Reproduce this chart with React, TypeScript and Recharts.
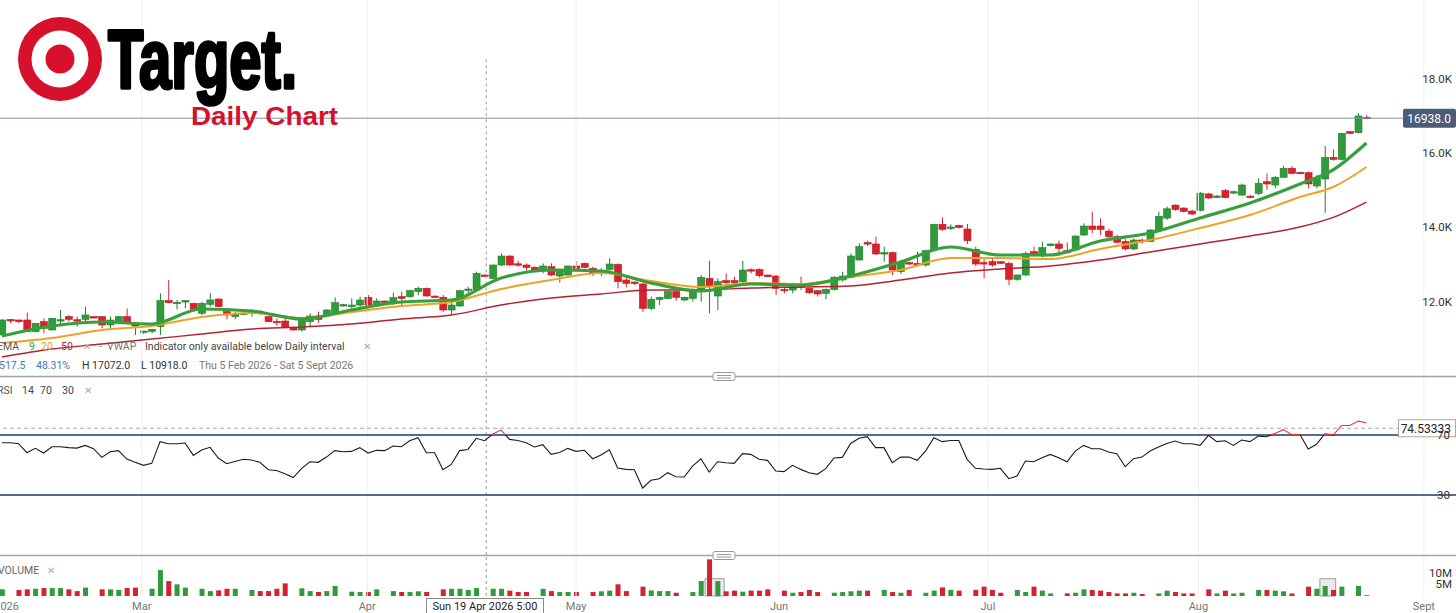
import React from 'react';
import {
  ComposedChart,
  Bar,
  Line,
  XAxis,
  YAxis,
  ReferenceLine,
  ReferenceArea,
  Cell,
} from 'recharts';

const W = 1456;
const X_MIN = -0.24;
const X_MAX = 174.76;
const PRICE_MIN = 10000;
const PRICE_MAX = 20120;
const RSI_MIN = -10;
const RSI_MAX = 108.7;
const VOL_MAX = 16.7;

const GREEN = '#2f9b3b';
const GREEN_EDGE = '#237a2c';
const RED = '#d9222d';
const FONT = 'Roboto, "Noto Sans", sans-serif';

// open, high, low, close
const candles: [number, number, number, number][] = [
  [11104, 11530, 11080, 11507], [11520, 11530, 11417, 11490], [11507, 11520, 11417, 11462], [11507, 11705, 11180, 11193],
  [11193, 11420, 11180, 11417], [11462, 11552, 11148, 11283], [11238, 11560, 11230, 11552], [11500, 11777, 11373, 11515],
  [11597, 11642, 11462, 11525], [11515, 11597, 11328, 11500], [11525, 11866, 11462, 11642], [11597, 11610, 11570, 11570],
  [11597, 11610, 11283, 11373], [11373, 11597, 11283, 11507], [11462, 11610, 11450, 11597], [11597, 11821, 11400, 11417],
  [11399, 11410, 11103, 11346], [11184, 11211, 11130, 11211], [11202, 11270, 11150, 11256], [11328, 12225, 11103, 12028],
  [12028, 12584, 11956, 11974], [11956, 12046, 11794, 11983], [12010, 12035, 11821, 12028], [11956, 11975, 11780, 11794],
  [11686, 12000, 11640, 11956], [11929, 12225, 11866, 12046], [12072, 12090, 11850, 11866], [11732, 11777, 11525, 11642],
  [11597, 11732, 11525, 11660], [11680, 11720, 11640, 11690], [11720, 11794, 11597, 11735], [11730, 11780, 11650, 11715],
  [11597, 11620, 11450, 11462], [11470, 11552, 11346, 11455], [11480, 11552, 11282, 11309], [11309, 11320, 11220, 11238],
  [11238, 11597, 11200, 11552], [11462, 11686, 11309, 11615], [11615, 11731, 11435, 11525], [11615, 11800, 11600, 11776],
  [11668, 12117, 11641, 11973], [11893, 11940, 11870, 11920], [11866, 12090, 11776, 11910], [11910, 12135, 11866, 12045],
  [12117, 12180, 11866, 11910], [11884, 12090, 11866, 12018], [12018, 12030, 11980, 11992], [11955, 12242, 11910, 12108],
  [12135, 12270, 11866, 12090], [12135, 12320, 12110, 12296], [12270, 12404, 12180, 12360], [12360, 12380, 12140, 12153],
  [12150, 12170, 12120, 12130], [12117, 12180, 11731, 11776], [11776, 12045, 11668, 11910], [11884, 12320, 11866, 12296],
  [12320, 12404, 12225, 12340], [12314, 12808, 12296, 12763], [12718, 12740, 12680, 12691], [12628, 13000, 12610, 12987],
  [12987, 13301, 12960, 13229], [13229, 13250, 12970, 12987], [13020, 13100, 12942, 13000], [12987, 13032, 12835, 12924],
  [12924, 12950, 12820, 12835], [12835, 13032, 12763, 12960], [12942, 13032, 12691, 12718], [12691, 12850, 12512, 12835],
  [12718, 12980, 12700, 12960], [12960, 13100, 12870, 12897], [13032, 13050, 12900, 12924], [12897, 12942, 12691, 12763],
  [12790, 12897, 12691, 12830], [12870, 13167, 12835, 13014], [13005, 13032, 12359, 12538], [12583, 12655, 12386, 12494],
  [12530, 12540, 12450, 12512], [12476, 12512, 11731, 11821], [11821, 12135, 11776, 12063], [12063, 12135, 11910, 12117],
  [12090, 12280, 12075, 12269], [12269, 12290, 12027, 12117], [12045, 12135, 12018, 12117], [12090, 12359, 12000, 12332],
  [12332, 12718, 12000, 12655], [12628, 13100, 11686, 12404], [12153, 12628, 11776, 12539], [12566, 12763, 12476, 12512],
  [12566, 12673, 12476, 12512], [12539, 13100, 12512, 12853], [12860, 12897, 12763, 12830], [12870, 12897, 12655, 12700],
  [12718, 12730, 12660, 12673], [12691, 12718, 12180, 12359], [12330, 12404, 12225, 12305], [12314, 12512, 12225, 12476],
  [12449, 12673, 12314, 12386], [12359, 12380, 12198, 12242], [12296, 12310, 12135, 12207], [12225, 12350, 12063, 12332],
  [12330, 12680, 12300, 12660], [12584, 12808, 12539, 12691], [12656, 13301, 12628, 13230], [13122, 13571, 13104, 13481],
  [13588, 13642, 13499, 13553], [13553, 13750, 13257, 13284], [13300, 13481, 13077, 13320], [13320, 13346, 12718, 12853],
  [12808, 13122, 12745, 13050], [13050, 13080, 12990, 13040], [13032, 13346, 12942, 12987], [12987, 13391, 12942, 13373],
  [13391, 14100, 13380, 14082], [14082, 14270, 13911, 13947], [13990, 14082, 13929, 14010], [14055, 14070, 13974, 14000],
  [13956, 14091, 13553, 13642], [13409, 13481, 12960, 13014], [13050, 13140, 12629, 13032], [13077, 13167, 12942, 12987],
  [13077, 13090, 13020, 13032], [13032, 13077, 12449, 12602], [12602, 12730, 12566, 12718], [12718, 13346, 12691, 13301],
  [13346, 13481, 13212, 13257], [13230, 13616, 13194, 13454], [13508, 13570, 13490, 13553], [13553, 13642, 13301, 13436],
  [13373, 13589, 13301, 13328], [13391, 13785, 13370, 13768], [13795, 14109, 13768, 14037], [14037, 14423, 13840, 13947],
  [14037, 14243, 13795, 13947], [13900, 13960, 13700, 13750], [13750, 13800, 13560, 13600], [13620, 13680, 13380, 13420],
  [13420, 13700, 13380, 13660], [13660, 13700, 13560, 13620], [13620, 13950, 13600, 13930], [13930, 14420, 13900, 14300],
  [14250, 14560, 14200, 14500], [14600, 14620, 14450, 14480], [14520, 14540, 14400, 14430], [14440, 14470, 14330, 14360],
  [14460, 14950, 14430, 14920], [14900, 14930, 14770, 14790], [14820, 14870, 14790, 14845], [14990, 15030, 14780, 14800],
  [14930, 14990, 14900, 14960], [14870, 15180, 14850, 15140], [14840, 14880, 14790, 14818], [14916, 15320, 14870, 15185],
  [15230, 15454, 15006, 15168], [15140, 15380, 15051, 15347], [15347, 15660, 15330, 15589], [15589, 15652, 15437, 15454],
  [15481, 15500, 15440, 15454], [15473, 15500, 15051, 15168], [15114, 15410, 15051, 15320], [15302, 16190, 14396, 15885],
  [15885, 16100, 15795, 15831], [15831, 16540, 15800, 16531], [16576, 16590, 16520, 16531], [16549, 17072, 16530, 16998],
  [16961, 17030, 16925, 16938],
];

const rsi14 = [
  64.9, 64.9, 64.2, 58.2, 61.1, 58.0, 62.2, 62.2, 61.6, 61.3,
  63.1, 60.9, 55.1, 58.9, 59.6, 54.0, 51.8, 49.8, 51.1, 65.6,
  64.2, 64.2, 64.7, 56.4, 60.0, 61.8, 54.7, 50.9, 52.4, 53.8,
  53.3, 51.8, 46.9, 46.4, 44.2, 41.6, 47.6, 52.2, 51.8, 55.3,
  59.6, 58.9, 59.1, 61.6, 58.0, 59.8, 59.6, 62.7, 62.2, 66.2,
  68.2, 58.2, 58.2, 46.9, 50.4, 59.6, 60.4, 67.8, 66.2, 70.7,
  73.3, 67.1, 66.4, 64.9, 62.0, 63.6, 57.1, 58.4, 61.1, 59.1,
  59.8, 54.2, 56.7, 60.2, 48.0, 47.1, 46.9, 34.7, 39.8, 40.9,
  44.9, 42.2, 42.0, 49.3, 54.2, 45.3, 52.2, 51.5, 51.1, 57.6,
  57.1, 53.8, 53.1, 46.0, 45.6, 49.8, 47.1, 44.9, 43.8, 47.6,
  54.7, 55.1, 64.4, 67.8, 68.9, 61.6, 61.6, 51.6, 55.3, 55.3,
  53.1, 59.3, 68.2, 65.6, 66.4, 66.4, 53.8, 47.8, 47.3, 47.1,
  47.8, 40.9, 42.7, 52.7, 52.2, 54.9, 57.1, 54.9, 52.2, 59.3,
  63.1, 60.9, 60.9, 58.7, 57.6, 48.9, 54.2, 55.3, 59.3, 62.0,
  64.4, 66.0, 64.2, 64.2, 63.1, 69.8, 65.6, 66.2, 63.1, 66.7,
  65.6, 69.3, 68.9, 71.1, 73.6, 70.4, 70.4, 60.7, 63.8, 70.9,
  70.0, 76.4, 76.4, 79.3, 78.2,
];

// millions
const volumeM = [
  2.85, 0, 2.6, 2.85, 3.1, 3.4, 3.4, 3.4, 2.85, 2.1,
  3.6, 0, 2.85, 2.85, 2.6, 3.4, 3.6, 0, 3.1, 11.1,
  6.4, 5.0, 3.6, 0, 3.1, 2.1, 2.4, 3.1, 3.1, 0,
  2.6, 2.1, 2.1, 3.1, 5.4, 0, 3.3, 2.1, 1.7, 2.1,
  4.3, 0, 1.85, 1.7, 1.7, 2.85, 0, 2.1, 1.7, 1.7,
  2.0, 1.7, 0, 2.85, 3.1, 3.1, 2.6, 3.4, 0, 3.1,
  3.1, 2.3, 1.7, 1.7, 0, 3.1, 2.1, 1.7, 1.7, 1.7,
  0, 1.7, 2.0, 2.3, 5.0, 2.1, 0, 4.0, 2.4, 2.1,
  2.1, 1.4, 0, 1.7, 6.4, 15.7, 6.4, 2.0, 2.3, 1.85,
  2.3, 2.3, 2.85, 0, 2.3, 1.4, 1.7, 2.6, 1.7, 0,
  1.4, 1.7, 2.0, 2.3, 2.3, 0, 2.6, 1.7, 1.4, 2.6,
  0, 1.4, 2.3, 3.7, 2.6, 2.3, 0, 2.6, 4.0, 2.6,
  1.4, 0, 2.6, 1.7, 4.0, 2.3, 1.1, 0, 1.1, 1.4,
  2.85, 2.6, 2.3, 1.7, 1.1, 1.1, 1.4, 0.85, 0, 1.1,
  2.3, 1.7, 1.1, 1.1, 0, 2.85, 1.1, 2.3, 1.1, 1.4,
  0, 2.6, 2.6, 2.3, 2.0, 1.1, 0, 4.0, 3.1, 4.3,
  2.6, 4.0, 0, 4.3, 0.3,
];

// moving averages at these candle positions
const emaAt = [0, 6, 12, 18, 24, 30, 36, 42, 48, 54, 60, 66, 72, 78, 84, 90, 96, 102, 108, 114, 120, 126, 132, 138, 144, 150, 156, 160, 164];
const ema9 = [11077, 11346, 11453, 11400, 11803, 11749, 11534, 11776, 11992, 12045, 12638, 12853, 12826, 12503, 12288, 12476, 12449, 12690, 13068, 13472, 13257, 13257, 13633, 13849, 14253, 14656, 15168, 15550, 16271];
const ema20 = [10888, 11023, 11238, 11346, 11588, 11696, 11561, 11723, 11884, 11992, 12342, 12584, 12772, 12557, 12395, 12503, 12476, 12665, 12853, 13176, 13176, 13149, 13418, 13660, 13983, 14333, 14818, 15087, 15625];
const ema50 = [10511, 10727, 10861, 10996, 11130, 11265, 11319, 11400, 11534, 11642, 11911, 12099, 12207, 12315, 12315, 12368, 12395, 12422, 12584, 12772, 12880, 12961, 13122, 13337, 13553, 13768, 14010, 14270, 14683];

const priceTicks = [12000, 14000, 16000, 18000];
const rsiLevels = [30, 70];
const volumeTicks = [5, 10];
const monthTicks = [0.55, 16.8, 43.9, 69.0, 93.4, 118.5, 143.8, 170.9];
const monthLabels = ['2026', 'Mar', 'Apr', 'May', 'Jun', 'Jul', 'Aug', 'Sept'];
const lastPrice = 16938;
const cursorIndex = 58.2;
const cursorRsi = 74.53333;
const cursorTopPrice = 18520;
const eventSpans: [number, number][] = [[84.5, 86.8], [158.4, 160.3]];

const rows = candles.map(([open, high, low, close], i) => ({
  i,
  open,
  high,
  low,
  close,
  range: [low, high],
  up: close >= open,
  rsi: rsi14[i],
  vol: volumeM[i],
  ema9: undefined as number | undefined,
  ema20: undefined as number | undefined,
  ema50: undefined as number | undefined,
}));
emaAt.forEach((idx, k) => {
  rows[idx].ema9 = ema9[k];
  rows[idx].ema20 = ema20[k];
  rows[idx].ema50 = ema50[k];
});

const noMargin = { top: 0, right: 0, bottom: 0, left: 0 };

function Candle(props: any) {
  const { x, width, payload } = props;
  let { y, height } = props;
  if (!payload || y == null || height == null) return null;
  if (height < 0) {
    y += height;
    height = -height;
  }
  const { open, close, high, low } = payload;
  const span = high - low || 1;
  const toY = (v: number) => y + ((high - v) / span) * height;
  const up = close >= open;
  const cx = x + width / 2;
  const top = Math.min(toY(open), toY(close));
  const bodyH = Math.max(1.4, Math.abs(toY(open) - toY(close)));
  return (
    <g>
      <line x1={cx} x2={cx} y1={y} y2={y + height} stroke={up ? GREEN_EDGE : RED} strokeWidth={1} />
      <rect
        x={x}
        y={top}
        width={width}
        height={bodyH}
        fill={up ? GREEN : RED}
        stroke={up ? GREEN_EDGE : '#b81822'}
        strokeWidth={0.6}
      />
    </g>
  );
}

const priceTick = (p: any) => (
  <text x={W - 4} y={p.y} dy={4} textAnchor="end" fontSize={11.5} fill="#333" fontFamily={FONT}>
    {(p.payload.value / 1000).toFixed(1)}K
  </text>
);

const rsiTick = (p: any) => (
  <text x={W - 6} y={p.y} dy={4} textAnchor="end" fontSize={11.5} fill="#333" fontFamily={FONT}>
    {p.payload.value}
  </text>
);

const volTick = (p: any) => (
  <text x={W - 4} y={p.y} dy={4} textAnchor="end" fontSize={11.5} fill="#333" fontFamily={FONT}>
    {p.payload.value}M
  </text>
);

const monthTick = (p: any) => {
  const k = monthTicks.indexOf(p.payload.value);
  return (
    <text x={p.x} y={p.y} dy={14} textAnchor="middle" fontSize={11} fill="#777" fontFamily={FONT}>
      {monthLabels[k]}
    </text>
  );
};

const PriceTag = (props: any) => {
  const vb = props.viewBox || {};
  const right = (vb.x || 0) + (vb.width || 0);
  return (
    <g>
      <rect x={right - 53} y={vb.y - 9.5} width={53} height={19} rx={2} fill="#4b5b78" />
      <text x={right - 5} y={vb.y + 4.5} textAnchor="end" fontSize={12} fill="#fff" fontFamily={FONT}>
        {lastPrice.toFixed(1)}
      </text>
    </g>
  );
};

const RsiTag = (props: any) => {
  const vb = props.viewBox || {};
  const right = (vb.x || 0) + (vb.width || 0);
  return (
    <g>
      <rect x={right - 57.5} y={vb.y - 8.5} width={57} height={17} fill="#fff" stroke="#aaa" strokeWidth={1} />
      <text x={right - 5} y={vb.y + 4.5} textAnchor="end" fontSize={12} fill="#222" fontFamily={FONT}>
        {cursorRsi.toFixed(5)}
      </text>
    </g>
  );
};

const rsiSplit = (RSI_MAX - 70) / (RSI_MAX - RSI_MIN);

function Legend() {
  const row = (top: number): React.CSSProperties => ({
    position: 'absolute',
    top,
    height: 14,
    lineHeight: '14px',
    fontSize: 10.5,
    fontFamily: FONT,
    whiteSpace: 'nowrap',
  });
  const at = (left: number, color: string, text: string, extra: React.CSSProperties = {}) => (
    <span style={{ position: 'absolute', left, color, ...extra }}>{text}</span>
  );
  return (
    <>
      <div style={{ ...row(340), left: 0, width: 400 }}>
        {at(-3, '#555', 'EMA')}
        {at(29, GREEN, '9')}
        {at(41, '#e9a21c', '20')}
        {at(61, '#b8202c', '50')}
        {at(83, '#aaa', '✕', { fontSize: 10 })}
        {at(99, '#888', '-')}
        {at(107, '#777', 'VWAP')}
        {at(145, '#444', 'Indicator only available below Daily interval')}
        {at(363, '#aaa', '✕', { fontSize: 10 })}
      </div>
      <div style={{ ...row(359), left: 0, width: 400 }}>
        {at(-1, '#3b7cc4', '517.5')}
        {at(36, '#3b7cc4', '48.31%')}
        {at(82, '#333', 'H 17072.0')}
        {at(141, '#333', 'L 10918.0')}
        {at(199, '#777', 'Thu 5 Feb 2026 - Sat 5 Sept 2026')}
      </div>
      <div style={{ ...row(384), left: 0, width: 120 }}>
        {at(-3, '#555', 'RSI')}
        {at(22, '#444', '14')}
        {at(40, '#444', '70')}
        {at(62, '#444', '30')}
        {at(84, '#aaa', '✕', { fontSize: 10 })}
      </div>
      <div style={{ ...row(564), left: 0, width: 80 }}>
        {at(-2, '#666', 'VOLUME')}
        {at(47, '#aaa', '✕', { fontSize: 10 })}
      </div>
    </>
  );
}

function Separators() {
  const handle = (y: number) => (
    <g>
      <rect x={713} y={y - 4} width={22} height={8} rx={2} fill="#fff" stroke="#999" />
      <line x1={717} x2={731} y1={y - 1} y2={y - 1} stroke="#999" />
      <line x1={717} x2={731} y1={y + 1.5} y2={y + 1.5} stroke="#999" />
    </g>
  );
  return (
    <svg width={W} height={613} style={{ position: 'absolute', left: 0, top: 0, pointerEvents: 'none' }}>
      <line x1={0} x2={W} y1={376.5} y2={376.5} stroke="#a3a3a3" strokeWidth={1.5} />
      <line x1={0} x2={W} y1={555.5} y2={555.5} stroke="#a3a3a3" strokeWidth={1.5} />
      {handle(376.5)}
      {handle(555.5)}
    </svg>
  );
}

function Logo() {
  const red = '#d7102c';
  return (
    <svg width={360} height={140} style={{ position: 'absolute', left: 0, top: 0 }}>
      <circle cx={60} cy={59} r={42} fill={red} />
      <circle cx={60} cy={59} r={28.5} fill="#fff" />
      <circle cx={60} cy={59} r={14.5} fill={red} />
      <text
        x={108}
        y={88}
        fontFamily="'Liberation Sans Narrow', 'Liberation Sans', Arial, sans-serif"
        fontWeight={700}
        fontSize={84}
        textLength={189}
        lengthAdjust="spacingAndGlyphs"
        fill="#000"
        stroke="#000"
        strokeWidth={3.6}
        strokeLinejoin="round"
      >
        Target.
      </text>
      <text
        x={191}
        y={125}
        fontFamily="'Liberation Sans', Arial, sans-serif"
        fontWeight={700}
        fontSize={25}
        textLength={147}
        lengthAdjust="spacingAndGlyphs"
        fill={red}
      >
        Daily Chart
      </text>
    </svg>
  );
}

export default function App() {
  const xAxisHidden = (
    <XAxis dataKey="i" type="number" domain={[X_MIN, X_MAX]} hide allowDataOverflow />
  );
  const monthGrid = monthTicks.slice(1).map((t) => (
    <ReferenceLine key={`g${t}`} x={t} stroke="#efefef" strokeWidth={1} />
  ));
  return (
    <div
      style={{
        position: 'fixed',
        left: 0,
        top: 0,
        width: W,
        height: 613,
        overflow: 'hidden',
        background: '#fff',
        fontFamily: FONT,
      }}
    >
      <style>{'body{margin:0}'}</style>

      <div style={{ position: 'absolute', left: 0, top: 0 }}>
        <ComposedChart width={W} height={376} data={rows} margin={noMargin}>
          {xAxisHidden}
          <YAxis
            orientation="right"
            mirror
            domain={[PRICE_MIN, PRICE_MAX]}
            ticks={priceTicks}
            tick={priceTick}
            interval={0}
            axisLine={false}
            tickLine={false}
            allowDataOverflow
          />
          {monthGrid}
          <ReferenceLine
            segment={[
              { x: cursorIndex, y: cursorTopPrice },
              { x: cursorIndex, y: PRICE_MIN },
            ]}
            stroke="#9a9a9a"
            strokeDasharray="3 3"
          />
          <ReferenceLine y={lastPrice} stroke="#8795a3" strokeWidth={1} label={<PriceTag />} />
          <Bar dataKey="range" barSize={7} shape={Candle} isAnimationActive={false} />
          <Line
            dataKey="ema50"
            type="monotone"
            stroke="#b3222e"
            strokeWidth={1.4}
            dot={false}
            connectNulls
            isAnimationActive={false}
          />
          <Line
            dataKey="ema20"
            type="monotone"
            stroke="#eea327"
            strokeWidth={2}
            dot={false}
            connectNulls
            isAnimationActive={false}
          />
          <Line
            dataKey="ema9"
            type="monotone"
            stroke="#37a03d"
            strokeWidth={3.2}
            dot={false}
            connectNulls
            isAnimationActive={false}
          />
        </ComposedChart>
      </div>

      <div style={{ position: 'absolute', left: 0, top: 377 }}>
        <ComposedChart width={W} height={178} data={rows} margin={noMargin}>
          <defs>
            <linearGradient id="rsiStroke" x1="0" y1="0" x2="0" y2="178" gradientUnits="userSpaceOnUse">
              <stop offset={rsiSplit} stopColor="#e0353d" />
              <stop offset={rsiSplit} stopColor="#1b1b1b" />
            </linearGradient>
          </defs>
          {xAxisHidden}
          <YAxis
            orientation="right"
            mirror
            domain={[RSI_MIN, RSI_MAX]}
            ticks={rsiLevels}
            tick={rsiTick}
            interval={0}
            axisLine={false}
            tickLine={false}
            allowDataOverflow
          />
          {monthGrid}
          <ReferenceLine x={cursorIndex} stroke="#9a9a9a" strokeDasharray="3 3" />
          {rsiLevels.map((v) => (
            <ReferenceLine key={`l${v}`} y={v} stroke="#1d3a68" strokeWidth={1.6} />
          ))}
          <ReferenceLine y={cursorRsi} stroke="#a8a8a8" strokeDasharray="4 3" label={<RsiTag />} />
          <Line
            dataKey="rsi"
            type="linear"
            stroke="url(#rsiStroke)"
            strokeWidth={1.1}
            dot={false}
            isAnimationActive={false}
          />
        </ComposedChart>
      </div>

      <div style={{ position: 'absolute', left: 0, top: 557 }}>
        <ComposedChart width={W} height={56} data={rows} margin={noMargin}>
          <XAxis
            dataKey="i"
            type="number"
            domain={[X_MIN, X_MAX]}
            ticks={monthTicks}
            tick={monthTick}
            interval={0}
            height={17}
            axisLine={false}
            tickLine={false}
            tickSize={0}
            tickMargin={0}
            allowDataOverflow
          />
          <YAxis
            orientation="right"
            mirror
            domain={[0, VOL_MAX]}
            ticks={volumeTicks}
            tick={volTick}
            interval={0}
            axisLine={false}
            tickLine={false}
            allowDataOverflow
          />
          {monthGrid}
          <ReferenceLine x={cursorIndex} stroke="#9a9a9a" strokeDasharray="3 3" />
          <Bar dataKey="vol" barSize={5} isAnimationActive={false}>
            {rows.map((r) => (
              <Cell key={`v${r.i}`} fill={r.up ? '#2f9b3b' : '#d42230'} />
            ))}
          </Bar>
          {eventSpans.map(([a, b]) => (
            <ReferenceArea
              key={`e${a}`}
              x1={a}
              x2={b}
              y1={0}
              y2={7.4}
              fill="#d8d8d8"
              fillOpacity={0.55}
              stroke="#9c9c9c"
              strokeWidth={1}
            />
          ))}
        </ComposedChart>
      </div>

      <Separators />
      <Legend />
      <Logo />

      <div
        style={{
          position: 'absolute',
          left: 426,
          top: 598,
          width: 118,
          height: 16,
          border: '1px solid #8a8a8a',
          background: '#fff',
          fontSize: 11,
          lineHeight: '16px',
          color: '#222',
          textAlign: 'center',
          fontFamily: FONT,
          boxSizing: 'border-box',
        }}
      >
        Sun 19 Apr 2026 5:00
      </div>
    </div>
  );
}
